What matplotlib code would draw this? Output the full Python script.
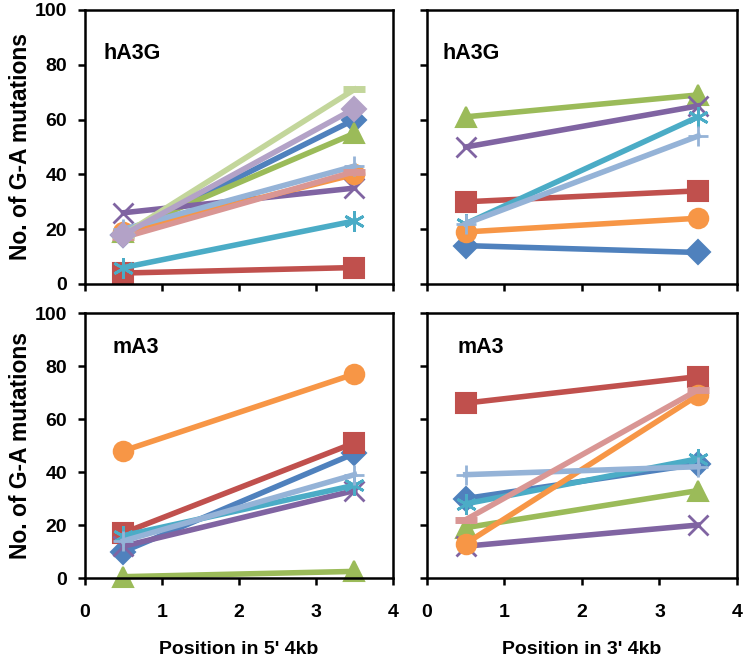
import numpy as np
import matplotlib.pyplot as plt

plt.rcParams['font.family'] = ['Liberation Sans', 'DejaVu Sans']

positions = [0.5, 3.5]

series_names = ['s1', 's2', 's3', 's4', 's5', 's6', 's7', 's8', 's9', 's10']
colors = ['#4F81BD', '#C0504D', '#9BBB59', '#8064A2', '#4BACC6',
          '#F79646', '#95B3D7', '#D99694', '#C3D69B', '#B3A2C7']
markers = ['D', 's', '^', 'x', (6, 2, 0), 'o', '+', '_', '_', 'D']
marker_sizes = [12, 14, 14, 15, 15, 14, 15, 16, 16, 12]

# G-A mutations at the two positions, per panel
hA3G_5p = {'s1': [18, 60], 's2': [4, 6], 's3': [19, 55], 's4': [26, 35],
           's5': [6, 23], 's6': [19, 40], 's7': [20, 43], 's8': [17, 41],
           's9': [18, 71], 's10': [18, 64]}
hA3G_3p = {'s1': [14, 11.5], 's2': [30, 34], 's3': [61, 69], 's4': [50, 65],
           's5': [22, 61], 's6': [19, 24], 's7': [22, 54]}
mA3_5p = {'s1': [10, 47], 's2': [17, 51], 's3': [0.5, 2.5], 's4': [12, 33],
          's5': [16, 35], 's6': [48, 77], 's7': [14, 39]}
mA3_3p = {'s1': [30, 43], 's2': [66, 76], 's3': [19, 33], 's4': [12, 20],
          's5': [28, 45], 's6': [13, 69], 's7': [39, 42], 's8': [22, 71]}

panels = [hA3G_5p, hA3G_3p, mA3_5p, mA3_3p]
panel_titles = ['hA3G', 'hA3G', 'mA3', 'mA3']
title_pos = [(0.06, 0.84), (0.05, 0.84), (0.09, 0.87), (0.10, 0.87)]

fig = plt.figure(figsize=(7.5, 6.64), dpi=100)
rects = [[0.1133, 0.5723, 0.4107, 0.4127],
         [0.5693, 0.5723, 0.4133, 0.4127],
         [0.1133, 0.1295, 0.4107, 0.3991],
         [0.5693, 0.1295, 0.4133, 0.3991]]

for i, (data, rect) in enumerate(zip(panels, rects)):
    ax = fig.add_axes(rect)
    for name, c, m, ms in zip(series_names, colors, markers, marker_sizes):
        if name not in data:
            continue
        mew = 1.5
        if m == '_':
            mew = 5
        elif m in ('x', '+') or isinstance(m, tuple):
            mew = 2
        ax.plot(positions, data[name], color=c, lw=4, marker=m,
                markersize=ms, markeredgewidth=mew, markeredgecolor=c,
                clip_on=False)
    ax.set_xlim(0, 4)
    ax.set_ylim(0, 100)
    ax.set_xticks([0, 1, 2, 3, 4])
    ax.set_yticks(np.arange(0, 101, 20))
    ax.tick_params(direction='out', length=5, width=1.8, labelsize=14)
    ax.tick_params(axis='x', pad=14)
    ax.tick_params(axis='y', pad=8)
    for sp in ax.spines.values():
        sp.set_linewidth(1.8)
    for lab in ax.get_xticklabels() + ax.get_yticklabels():
        lab.set_fontweight('bold')
    if i < 2:
        ax.set_xticklabels([])
    else:
        ax.set_xlabel("Position in 5' 4kb" if i == 2 else "Position in 3' 4kb",
                      fontsize=14, fontweight='bold', labelpad=14)
    if i % 2 == 1:
        ax.set_yticklabels([])
    else:
        ax.set_ylabel('No. of G-A mutations', fontsize=16.5,
                      fontweight='bold', labelpad=2)
    ax.text(title_pos[i][0], title_pos[i][1], panel_titles[i],
            transform=ax.transAxes, fontsize=15.5, fontweight='bold',
            va='center', ha='left')

fig.savefig('out.png', dpi=100)
